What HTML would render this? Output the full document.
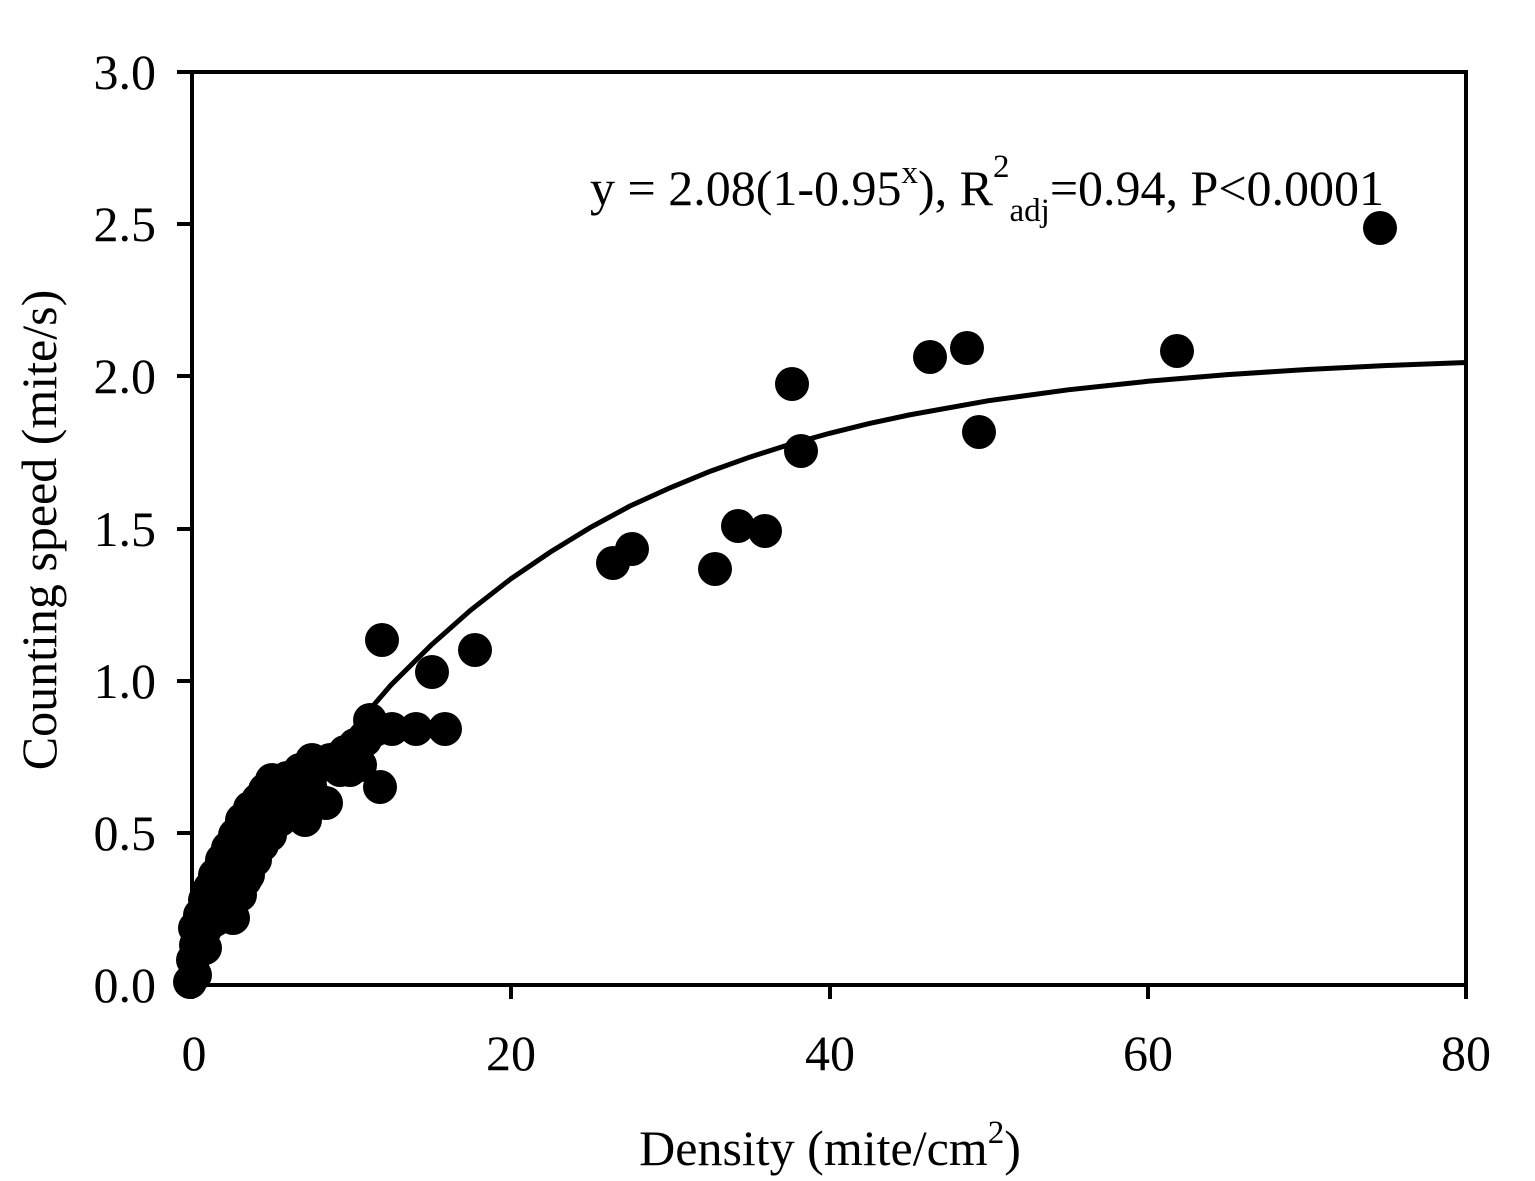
<!DOCTYPE html>
<html><head><meta charset="utf-8"><style>html,body{margin:0;padding:0;background:#fff}svg{display:block}text{font-family:"Liberation Serif",serif;fill:#000}</style></head>
<body>
<svg width="1535" height="1181" viewBox="0 0 1535 1181" xmlns="http://www.w3.org/2000/svg">
<rect x="192" y="72" width="1274" height="913" fill="none" stroke="#000" stroke-width="4"/>
<g stroke="#000" stroke-width="4">
<line x1="177" y1="985" x2="192" y2="985"/><line x1="177" y1="833" x2="192" y2="833"/><line x1="177" y1="681" x2="192" y2="681"/><line x1="177" y1="529" x2="192" y2="529"/><line x1="177" y1="376" x2="192" y2="376"/><line x1="177" y1="224" x2="192" y2="224"/><line x1="177" y1="72" x2="192" y2="72"/>
<line x1="192" y1="985" x2="192" y2="999"/><line x1="511" y1="985" x2="511" y2="999"/><line x1="830" y1="985" x2="830" y2="999"/><line x1="1148" y1="985" x2="1148" y2="999"/><line x1="1466" y1="985" x2="1466" y2="999"/>
</g>
<g font-size="50" text-anchor="end">
<text x="156" y="1002">0.0</text><text x="156" y="850">0.5</text><text x="156" y="698">1.0</text><text x="156" y="546">1.5</text><text x="156" y="393">2.0</text><text x="156" y="241">2.5</text><text x="156" y="89">3.0</text>
</g>
<g font-size="50" text-anchor="middle">
<text x="194" y="1070">0</text><text x="511" y="1070">20</text><text x="830" y="1070">40</text><text x="1148" y="1070">60</text><text x="1466" y="1070">80</text>
</g>
<text x="830" y="1165" font-size="50" text-anchor="middle">Density (mite/cm<tspan dy="-22" font-size="33">2</tspan><tspan dy="22">)</tspan></text>
<text transform="translate(56,530) rotate(-90)" font-size="50" text-anchor="middle">Counting speed (mite/s)</text>
<text x="590" y="205" font-size="50">y = 2.08(1-0.95<tspan dy="-22" font-size="33">x</tspan><tspan dy="22">), R</tspan><tspan dy="-28" font-size="33">2</tspan><tspan dy="44" font-size="33">adj</tspan><tspan dy="-16">=0.94, P&lt;0.0001</tspan></text>
<polyline fill="none" stroke="#000" stroke-width="5" points="192,985 231.8,910 271.65,841.8 311.5,783 351.3,731 391,685 430.95,645.3 470.8,610 510.6,579 550.4,552 590.25,527.6 630,506 669.9,487.9 709.7,471.5 749.55,457.2 789.4,444.5 829.2,433.4 869,423.6 908.85,415 988.5,400.7 1068.15,389.8 1147.8,381.3 1227.45,374.6 1307.1,369.5 1386.75,365.5 1466.4,362.5"/>
<g fill="#000">
<circle cx="1380" cy="228" r="17"/><circle cx="1177" cy="351" r="17"/><circle cx="967" cy="348" r="17"/><circle cx="930" cy="357" r="17"/><circle cx="979" cy="432" r="17"/><circle cx="792" cy="384" r="17"/><circle cx="801" cy="451" r="17"/><circle cx="738" cy="526" r="17"/><circle cx="765" cy="531" r="17"/><circle cx="715" cy="569" r="17"/><circle cx="613" cy="563" r="17"/><circle cx="632" cy="549" r="17"/><circle cx="475" cy="650" r="17"/><circle cx="432" cy="672" r="17"/><circle cx="382" cy="640" r="17"/><circle cx="445" cy="729" r="17"/><circle cx="416" cy="729" r="17"/><circle cx="392" cy="729" r="17"/><circle cx="380" cy="787" r="17"/><circle cx="370" cy="720" r="17"/>
<circle cx="195" cy="975" r="17"/><circle cx="193" cy="960" r="17"/><circle cx="196" cy="945" r="17"/><circle cx="195" cy="928" r="17"/><circle cx="200" cy="915" r="17"/><circle cx="205" cy="900" r="17"/><circle cx="210" cy="888" r="17"/><circle cx="215" cy="875" r="17"/><circle cx="222" cy="860" r="17"/><circle cx="228" cy="848" r="17"/><circle cx="235" cy="835" r="17"/><circle cx="242" cy="820" r="17"/><circle cx="250" cy="808" r="17"/><circle cx="258" cy="800" r="17"/><circle cx="265" cy="790" r="17"/><circle cx="272" cy="780" r="17"/><circle cx="287" cy="778" r="17"/><circle cx="300" cy="770" r="17"/><circle cx="312" cy="760" r="17"/><circle cx="322" cy="765" r="17"/><circle cx="330" cy="760" r="17"/><circle cx="345" cy="752" r="17"/><circle cx="355" cy="745" r="17"/><circle cx="365" cy="740" r="17"/><circle cx="375" cy="730" r="17"/><circle cx="233" cy="918" r="17"/><circle cx="240" cy="895" r="17"/><circle cx="248" cy="875" r="17"/><circle cx="255" cy="860" r="17"/><circle cx="262" cy="845" r="17"/><circle cx="270" cy="835" r="17"/><circle cx="280" cy="820" r="17"/><circle cx="292" cy="805" r="17"/><circle cx="305" cy="820" r="17"/><circle cx="318" cy="800" r="17"/><circle cx="326" cy="803" r="17"/><circle cx="340" cy="770" r="17"/><circle cx="350" cy="770" r="17"/><circle cx="360" cy="765" r="17"/><circle cx="200" cy="930" r="17"/><circle cx="210" cy="905" r="17"/><circle cx="220" cy="890" r="17"/><circle cx="230" cy="880" r="17"/><circle cx="245" cy="858" r="17"/><circle cx="260" cy="840" r="17"/><circle cx="275" cy="815" r="17"/><circle cx="285" cy="800" r="17"/><circle cx="300" cy="790" r="17"/><circle cx="190" cy="982" r="17"/><circle cx="205" cy="948" r="17"/><circle cx="220" cy="870" r="17"/><circle cx="238" cy="850" r="17"/><circle cx="252" cy="830" r="17"/><circle cx="268" cy="812" r="17"/><circle cx="280" cy="795" r="17"/><circle cx="290" cy="785" r="17"/><circle cx="310" cy="785" r="17"/><circle cx="215" cy="920" r="17"/><circle cx="228" cy="900" r="17"/><circle cx="245" cy="880" r="17"/>
</g>
</svg>
</body></html>
